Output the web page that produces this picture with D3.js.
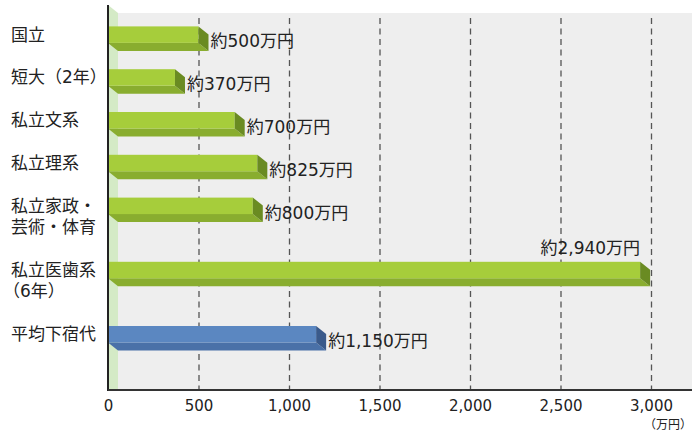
<!DOCTYPE html>
<html lang="ja"><head><meta charset="utf-8">
<script src="https://cdn.jsdelivr.net/npm/d3@7"></script>
<style>body{margin:0;background:#fff}svg{display:block}text{font-family:"DejaVu Sans","Noto Sans CJK JP",sans-serif;fill:#222}</style>
</head><body>
<svg id="c" width="699" height="433"></svg>
<script>
const categories = [["国立"],["短大（2年）"],["私立文系"],["私立理系"],["私立家政・","芸術・体育"],["私立医歯系","（6年）"],["平均下宿代"]];
const values = [500, 370, 700, 825, 800, 2940, 1150];
const valueLabels = ["約500万円","約370万円","約700万円","約825万円","約800万円","約2,940万円","約1,150万円"];
const seriesType = ["green","green","green","green","green","green","blue"];
const xTicks = [0, 500, 1000, 1500, 2000, 2500, 3000];
const unitLabel = "（万円）";

const colors = {
  green: {front:"#a6cd3b", bottom:"#89ad2f", side:"#6a8b22"},
  blue: {front:"#5b87c1", bottom:"#4a71a8", side:"#3a5a8b"}
};

const svg = d3.select("#c");
const x = d3.scaleLinear().domain([0, 3000]).range([108, 651]);
// row units: single-line labels take 2 units, two-line labels take 3
let acc = 0;
const rows = categories.map((lines, i) => {
  const r = {lines, v: values[i], label: valueLabels[i], type: seriesType[i], k: acc};
  acc += lines.length === 1 ? 2 : 3;
  return r;
});
const y = d3.scaleLinear().domain([0, 1]).range([26.4, 47.8]);
const plotTop = 13, plotBottom = 390, plotRight = 692;
const dx = 10, dy = 8, fh = 16.5;

// background
svg.append("rect").attr("x", x(0) + dx - 1).attr("y", plotTop).attr("width", plotRight - x(0) - dx + 1).attr("height", plotBottom - plotTop).attr("fill", "#eeeeee");
svg.append("path").attr("d", `M${x(0)},${plotTop - dy}L${x(0) + dx},${plotTop}L${x(0) + dx},${plotBottom}L${x(0)},${plotBottom}Z`).attr("fill", "#d4eac6");

// grid
svg.append("g").selectAll("line").data(xTicks.filter(t => t > 0)).join("line")
  .attr("x1", d => x(d) + 0.5).attr("x2", d => x(d) + 0.5)
  .attr("y1", plotTop + 5).attr("y2", plotBottom)
  .attr("stroke", "#555").attr("stroke-width", 1.3).attr("stroke-dasharray", "6,4.5");

// bars
const g = svg.append("g").selectAll("g").data(rows).join("g");
g.append("path").attr("fill", d => colors[d.type].bottom)
  .attr("d", d => { const t = y(d.k), x0 = x(0), x1 = x(d.v); return `M${x0},${t + fh}L${x1},${t + fh}L${x1 + dx},${t + fh + dy}L${x0 + dx},${t + fh + dy}Z`; });
g.append("rect").attr("fill", d => colors[d.type].front)
  .attr("x", x(0)).attr("y", d => y(d.k)).attr("width", d => x(d.v) - x(0)).attr("height", fh);
g.append("path").attr("fill", d => colors[d.type].side)
  .attr("d", d => { const t = y(d.k), x1 = x(d.v); return `M${x1},${t}L${x1 + dx},${t + dy}L${x1 + dx},${t + fh + dy}L${x1},${t + fh}Z`; });

// value labels
g.append("text").attr("font-size", 17).attr("dominant-baseline", "central")
  .attr("text-anchor", d => x(d.v) > 600 ? "end" : "start")
  .attr("x", d => x(d.v) > 600 ? x(d.v) : x(d.v) + dx + 2)
  .attr("y", d => x(d.v) > 600 ? y(d.k) - 14 : y(d.k) + 15)
  .text(d => d.label);

// category labels
const cl = svg.append("g").selectAll("text").data(rows).join("text")
  .attr("x", 11).attr("font-size", 17).attr("dominant-baseline", "central");
cl.selectAll("tspan").data(d => d.lines.map((s, j) => ({s, j, t: y(d.k)}))).join("tspan")
  .attr("x", d => d.s.startsWith("（") ? 3 : 11)
  .attr("y", d => d.t + fh / 2 + d.j * 21).text(d => d.s);

// axes
svg.append("line").attr("x1", x(0)).attr("x2", x(0)).attr("y1", plotTop - dy).attr("y2", plotBottom + 1).attr("stroke", "#222").attr("stroke-width", 2);
svg.append("line").attr("x1", x(0)).attr("x2", plotRight).attr("y1", plotBottom).attr("y2", plotBottom).attr("stroke", "#333").attr("stroke-width", 2);

const axis = svg.append("g").attr("transform", `translate(0,${plotBottom})`)
  .call(d3.axisBottom(x).tickValues(xTicks).tickFormat(d3.format(",")).tickSize(0).tickPadding(10));
axis.select(".domain").remove();
axis.selectAll("text").attr("font-size", 15).attr("fill", "#222").attr("font-family", '"DejaVu Sans","Noto Sans CJK JP",sans-serif');

svg.append("text").attr("x", 692).attr("y", 425).attr("text-anchor", "end").attr("dominant-baseline", "central").attr("font-size", 12).text(unitLabel);
</script>
</body></html>
